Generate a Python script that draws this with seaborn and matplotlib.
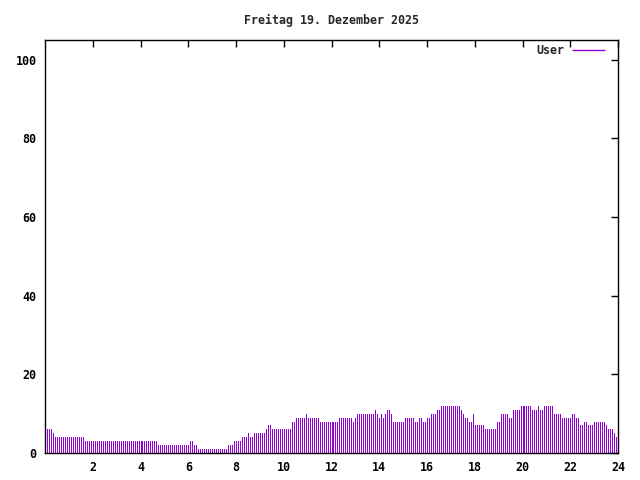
#!/usr/bin/env python
# -*- coding: utf-8 -*-
# daily user count, 5 minute samples, drawn as impulses like gnuplot does
import numpy as np
import matplotlib
matplotlib.use('Agg')
import matplotlib.pyplot as plt
import seaborn as sns

title = 'Freitag 19. Dezember 2025'
series_name = 'User'

# one value per 5 minutes, first sample at 00:05 (one row per hour)
users = [
    6, 6, 6, 5, 4, 4, 4, 4, 4, 4, 4, 4,
    4, 4, 4, 4, 4, 4, 4, 3, 3, 3, 3, 3,
    3, 3, 3, 3, 3, 3, 3, 3, 3, 3, 3, 3,
    3, 3, 3, 3, 3, 3, 3, 3, 3, 3, 3, 3,
    3, 3, 3, 3, 3, 3, 3, 3, 2, 2, 2, 2,
    2, 2, 2, 2, 2, 2, 2, 2, 2, 2, 2, 2,
    3, 3, 2, 2, 1, 1, 1, 1, 1, 1, 1, 1,
    1, 1, 1, 1, 1, 1, 1, 2, 2, 2, 3, 3,
    3, 3, 4, 4, 4, 5, 4, 4, 5, 5, 5, 5,
    5, 5, 6, 7, 7, 6, 6, 6, 6, 6, 6, 6,
    6, 6, 6, 8, 8, 9, 9, 9, 9, 9, 10, 9,
    9, 9, 9, 9, 9, 8, 8, 8, 8, 8, 8, 8,
    8, 8, 8, 9, 9, 9, 9, 9, 9, 9, 8, 9,
    10, 10, 10, 10, 10, 10, 10, 10, 10, 11, 10, 9,
    10, 9, 10, 11, 11, 10, 8, 8, 8, 8, 8, 8,
    9, 9, 9, 9, 9, 8, 8, 9, 9, 8, 8, 9,
    9, 10, 10, 10, 11, 11, 12, 12, 12, 12, 12, 12,
    12, 12, 12, 12, 11, 10, 9, 9, 8, 8, 10, 7,
    7, 7, 7, 7, 6, 6, 6, 6, 6, 6, 8, 8,
    10, 10, 10, 10, 9, 9, 11, 11, 11, 11, 12, 12,
    12, 12, 12, 12, 11, 11, 11, 12, 11, 11, 12, 12,
    12, 12, 12, 10, 10, 10, 10, 9, 9, 9, 9, 9,
    10, 10, 9, 9, 7, 7, 8, 8, 7, 7, 7, 8,
    8, 8, 8, 8, 8, 7, 6, 6, 6, 5, 4,
]
hours = (np.arange(len(users)) + 1) * 5 / 60.0

xticks = [2, 4, 6, 8, 10, 12, 14, 16, 18, 20, 22, 24]
yticks = [0, 20, 40, 60, 80, 100]

sns.set_style('white')
plt.rcParams['font.family'] = ['DejaVu Sans Mono']
plt.rcParams['font.weight'] = 'bold'
color = '#9400d3'

fig = plt.figure(figsize=(6.4, 4.8), dpi=100)
ax = fig.add_axes([45 / 640, 1 - 453 / 480, 573 / 640, 413 / 480])

ax.vlines(hours, 0, users, colors=color, linewidth=0.5, antialiased=False, label=series_name)

ax.set_xlim(0, 24)
ax.set_ylim(0, 105)
ax.set_xticks(xticks)
ax.set_yticks(yticks)
ax.tick_params(direction='in', length=5, width=1, top=True, right=True,
               labelsize=8.4, colors='black', pad=6)
for s in ax.spines.values():
    s.set_color('black')
    s.set_linewidth(1)
ax.set_title(title, fontsize=8.4, fontweight='bold', pad=11.5)

leg = ax.legend(loc='upper right', frameon=False, markerfirst=False, fontsize=8.4,
                handlelength=2.8, handletextpad=0.65, borderaxespad=0.1,
                bbox_to_anchor=(0.987, 1.005))
for h in leg.legend_handles:
    h.set_linewidth(1)

plt.savefig('out.png', dpi=100)
